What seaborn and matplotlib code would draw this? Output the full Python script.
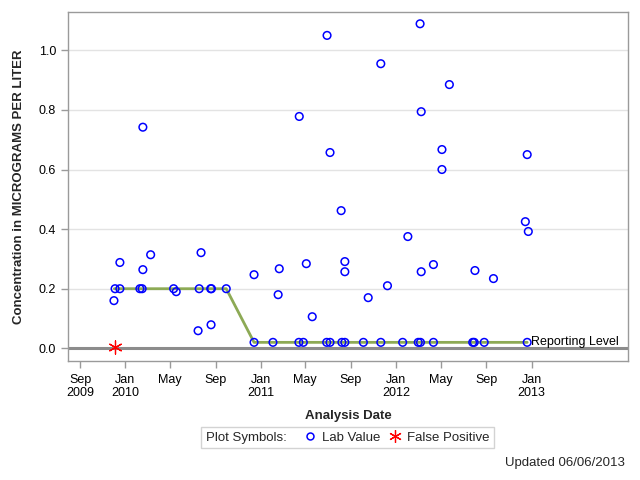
import numpy as np
import pandas as pd
import seaborn as sns
import matplotlib.pyplot as plt
from matplotlib.lines import Line2D
from matplotlib.offsetbox import HPacker

# lab results (date, concentration)
lab_dates = ["2009-12-01", "2009-12-04", "2009-12-17", "2009-12-17", "2010-02-09",
             "2010-02-15", "2010-02-17", "2010-02-17", "2010-03-10", "2010-05-11",
             "2010-05-18", "2010-07-16", "2010-07-19", "2010-07-24", "2010-08-19",
             "2010-08-20", "2010-08-21", "2010-09-30", "2010-12-14", "2010-12-14",
             "2011-02-03", "2011-02-17", "2011-02-20", "2011-04-14", "2011-04-15",
             "2011-04-26", "2011-05-04", "2011-05-20", "2011-06-28", "2011-06-29",
             "2011-07-07", "2011-07-07", "2011-08-06", "2011-08-08", "2011-08-16",
             "2011-08-16", "2011-08-16", "2011-10-05", "2011-10-18", "2011-11-21",
             "2011-11-21", "2011-12-09", "2012-01-19", "2012-02-02", "2012-03-01",
             "2012-03-06", "2012-03-07", "2012-03-09", "2012-03-09", "2012-04-11",
             "2012-04-11", "2012-05-04", "2012-05-04", "2012-05-24", "2012-07-26",
             "2012-07-30", "2012-08-01", "2012-08-26", "2012-09-20", "2012-12-15",
             "2012-12-20", "2012-12-20", "2012-12-23"]
lab_values = [0.16, 0.20, 0.20, 0.288, 0.20,
              0.20, 0.264, 0.742, 0.314, 0.20,
              0.19, 0.059, 0.20, 0.321, 0.20,
              0.079, 0.20, 0.20, 0.02, 0.247,
              0.02, 0.18, 0.267, 0.02, 0.778,
              0.02, 0.284, 0.106, 0.02, 1.05,
              0.02, 0.657, 0.462, 0.02, 0.02,
              0.291, 0.257, 0.02, 0.17, 0.02,
              0.955, 0.21, 0.02, 0.375, 0.02,
              1.089, 0.02, 0.794, 0.257, 0.02,
              0.281, 0.667, 0.60, 0.885, 0.02,
              0.02, 0.261, 0.02, 0.234, 0.425,
              0.02, 0.65, 0.392]

fp_dates = ["2009-12-04"]
fp_values = [0.005]

rl_dates = ["2009-12-02", "2010-09-30", "2010-12-14", "2012-12-20"]
rl_values = [0.2, 0.2, 0.02, 0.02]

tick_dates = ["2009-09-01", "2010-01-01", "2010-05-01", "2010-09-01", "2011-01-01",
              "2011-05-01", "2011-09-01", "2012-01-01", "2012-05-01", "2012-09-01",
              "2013-01-01"]
tick_labels = ["Sep\n2009", "Jan\n2010", "May", "Sep", "Jan\n2011", "May", "Sep",
               "Jan\n2012", "May", "Sep", "Jan\n2013"]
y_ticks = [0.0, 0.2, 0.4, 0.6, 0.8, 1.0]

lab = pd.DataFrame({"date": pd.to_datetime(lab_dates), "value": lab_values})
fp = pd.DataFrame({"date": pd.to_datetime(fp_dates), "value": fp_values})
rl = pd.DataFrame({"date": pd.to_datetime(rl_dates), "value": rl_values})

sns.set_theme(style="white")
plt.rcParams['font.family'] = ['Liberation Sans', 'DejaVu Sans']

gray = "#9a9a9a"
fig = plt.figure(figsize=(6.4, 4.8), dpi=100)
ax = fig.add_axes([0.10625, 0.2479, 0.875, 0.7277])

ax.axhline(0, color="#8c8c8c", lw=2.2, zorder=1)
for yt in y_ticks[1:]:
    ax.axhline(yt, color="#e3e3e3", lw=1, zorder=0)

sns.lineplot(data=rl, x="date", y="value", color="#8DAA55", lw=2,
             estimator=None, ax=ax, zorder=2)
sns.scatterplot(data=lab, x="date", y="value", marker="o", s=30,
                facecolor="none", edgecolor="blue", linewidth=1.1, ax=ax, zorder=3)
sns.scatterplot(data=fp, x="date", y="value", marker=(6, 2, 0), s=90,
                color="red", edgecolor="red", linewidth=0.9, ax=ax, zorder=3)

ax.annotate("Reporting Level", xy=(rl["date"].iloc[-1], rl["value"].iloc[-1]),
            xytext=(3, 0), textcoords="offset points", ha="left", va="center",
            fontsize=9, color="black")

ax.set_xlim(pd.Timestamp("2009-07-30"), pd.Timestamp("2013-09-18"))
ax.set_ylim(-0.0426, 1.1295)
ax.set_xticks(pd.to_datetime(tick_dates))
ax.set_xticklabels(tick_labels)
ax.set_yticks(y_ticks)
ax.set_yticklabels([f"{v:.1f}" for v in y_ticks])
ax.tick_params(axis="both", which="major", direction="out", length=5, width=1,
               color=gray, labelsize=9, labelcolor="black", bottom=True, left=True)
ax.tick_params(axis="x", pad=4)

for sp in ax.spines.values():
    sp.set_color(gray)
    sp.set_linewidth(1)

ax.set_xlabel("Analysis Date", fontsize=9.5, fontweight="bold", labelpad=8)
ax.set_ylabel("Concentration in MICROGRAMS PER LITER", fontsize=9.5,
              fontweight="bold", labelpad=10)

handles = [Line2D([], [], marker="o", ls="none", markerfacecolor="none",
                  markeredgecolor="blue", markersize=5, markeredgewidth=1.1),
           Line2D([], [], marker=(6, 2, 0), ls="none", color="red",
                  markersize=9, markeredgewidth=0.9)]
leg = fig.legend(handles, ["Lab Value", "False Positive"], title="Plot Symbols:",
                 loc="center", bbox_to_anchor=(0.5434, 0.0885), ncol=2,
                 fontsize=9.5, title_fontsize=9.5, frameon=True, fancybox=False,
                 edgecolor="#c8c8c8", handlelength=1.0, handletextpad=0.4,
                 columnspacing=0.6, borderpad=0.35)
# put the title to the left of the entries, on one row
fs = leg._fontsize
box = HPacker(pad=leg.borderpad * fs, sep=1.3 * fs, align="center",
              children=[leg._legend_title_box, leg._legend_handle_box])
box.set_figure(fig)
box.axes = leg.axes
leg._legend_box = box
leg._set_loc(leg._loc)
leg.get_frame().set_linewidth(1)

fig.text(625 / 640, 1 - 462.7 / 480, "Updated 06/06/2013", ha="right",
         va="center", fontsize=9.5)

fig.savefig("out.png", dpi=100, facecolor="white", edgecolor="#cfcfcf")
